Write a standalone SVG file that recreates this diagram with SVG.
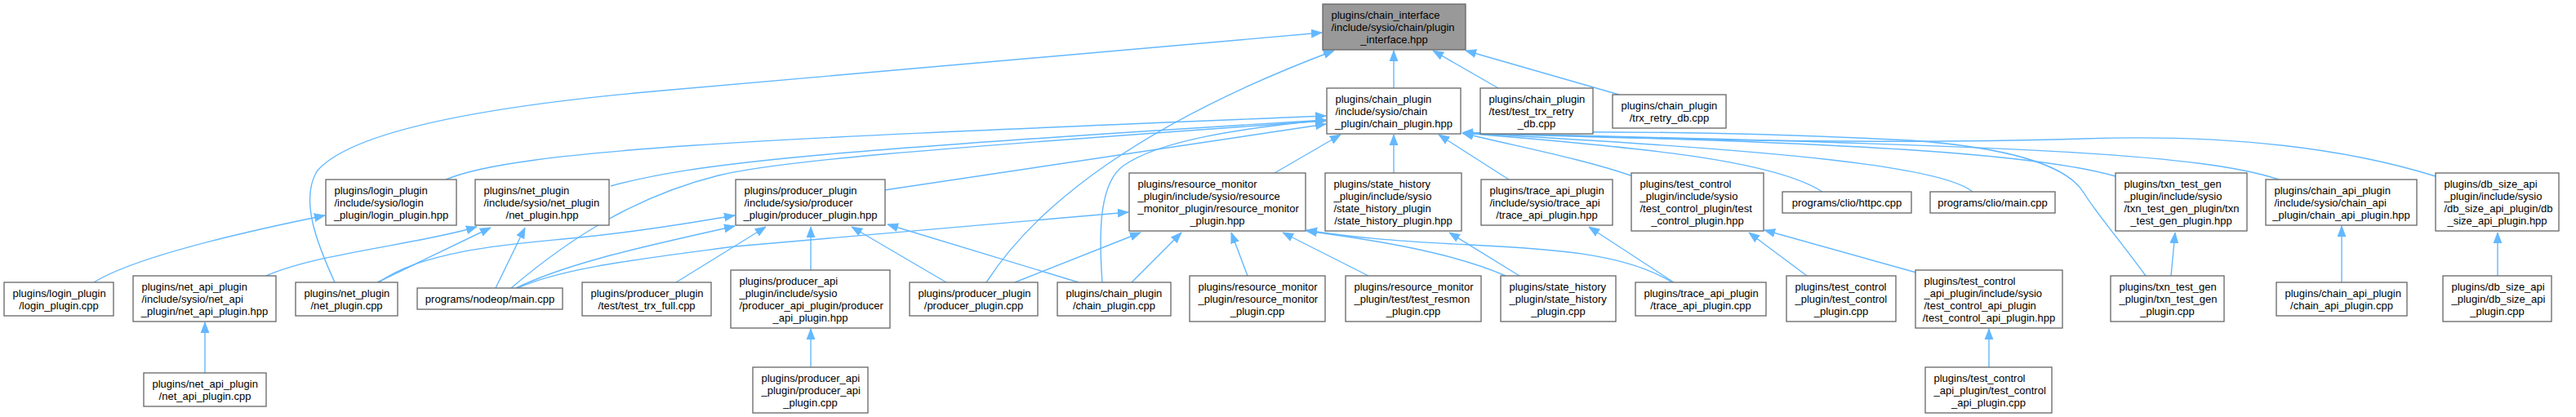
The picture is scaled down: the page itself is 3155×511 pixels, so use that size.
<svg xmlns="http://www.w3.org/2000/svg" width="3155" height="511" viewBox="0 0 3155 511">
<style>
.n rect{fill:#fff;stroke:#666;stroke-width:1.3}
#root rect{fill:#999}
text{font-family:"Liberation Sans",Arial,Helvetica,sans-serif;font-size:13px;fill:#000}
.m{text-anchor:middle}
#edges path{fill:none;stroke:#63b8ff;stroke-width:1.4;marker-end:url(#a)}
</style>
<defs>
<marker id="a" markerUnits="userSpaceOnUse" markerWidth="14" markerHeight="12" viewBox="0 0 14 12" refX="13" refY="6" orient="auto"><path d="M0,1 L13,6 L0,11 z" fill="#63b8ff" stroke="#63b8ff" stroke-width="0.8"/></marker>
</defs>
<rect width="3155" height="511" fill="#fff"/>
<g id="edges">
<path d="M1707,108 L1707,62"/>
<path d="M1835,108 L1755,62"/>
<path d="M1983,116 L1795,62"/>
<path d="M410,346 C389,300 367,246 388,210 C430,160 600,130 800,112 L1619,40"/>
<path d="M1208,346 C1270,250 1400,150 1634,62"/>
<path d="M546,220 C640,180 1000,168 1624,142"/>
<path d="M748,228 C850,200 1000,185 1624,147"/>
<path d="M626,353 C700,290 780,240 880,215 C950,198 1100,185 1624,148"/>
<path d="M1083,233 L1624,152"/>
<path d="M1350,346 C1346,290 1345,225 1376,203 C1420,172 1520,157 1624,147"/>
<path d="M1561,212 L1642,165"/>
<path d="M1707,212 L1707,165"/>
<path d="M1848,220 L1762,165"/>
<path d="M2000,216 C1940,195 1860,180 1791,163"/>
<path d="M2232,235 C2170,195 2000,180 1791,163"/>
<path d="M2416,235 C2380,205 2200,185 1791,163"/>
<path d="M2591,216 C2500,190 2300,175 1791,163"/>
<path d="M2628,338 C2596,294 2565,258 2552,236 C2530,200 2450,180 2340,172 C2100,160 1900,161 1791,163"/>
<path d="M2791,220 C2700,190 2500,178 1791,163"/>
<path d="M2983,216 C2850,175 2700,165 2550,170 C2300,178 2000,170 1791,163"/>
<path d="M326,338 C390,310 510,300 584,278"/>
<path d="M462,346 L601,279"/>
<path d="M607,353 L643,279"/>
<path d="M464,346 C520,305 640,298 700,292 C780,284 840,274 900,264"/>
<path d="M632,353 C700,320 800,300 900,277"/>
<path d="M634,353 C690,328 780,318 900,302 L1382,260"/>
<path d="M828,346 L938,278"/>
<path d="M993,331 L993,278"/>
<path d="M1159,346 L1043,278"/>
<path d="M1321,346 L1087,275"/>
<path d="M1243,346 L1397,285"/>
<path d="M1386,346 L1447,285"/>
<path d="M1528,338 L1508,285"/>
<path d="M1676,338 L1571,285"/>
<path d="M1844,338 C1780,310 1690,295 1600,283"/>
<path d="M2048,346 C1990,310 1900,305 1800,300 C1700,295 1650,290 1600,282"/>
<path d="M1861,338 L1775,285"/>
<path d="M2050,346 L1946,278"/>
<path d="M2213,338 L2142,285"/>
<path d="M2347,334 L2161,282"/>
<path d="M2436,450 L2436,403"/>
<path d="M2659,338 L2664,285"/>
<path d="M2868,346 L2868,277"/>
<path d="M3059,338 L3059,285"/>
<path d="M251,457 L251,395"/>
<path d="M993,450 L993,403"/>
<path d="M115,346 C160,318 270,290 398,264"/>
</g>
<g id="root" class="n"><rect x="1620" y="5" width="175" height="56"/><text x="1630.5" y="22.5">plugins/chain_interface</text><text x="1630.5" y="37.5">/include/sysio/chain/plugin</text><text class="m" x="1707.5" y="52.5">_interface.hpp</text></g>
<g id="chain_plugin_hpp" class="n"><rect x="1625" y="108" width="164" height="56"/><text x="1635.5" y="125.5">plugins/chain_plugin</text><text x="1635.5" y="140.5">/include/sysio/chain</text><text class="m" x="1707" y="155.5">_plugin/chain_plugin.hpp</text></g>
<g id="test_trx_retry_db" class="n"><rect x="1813" y="108" width="138" height="56"/><text x="1823.5" y="125.5">plugins/chain_plugin</text><text x="1823.5" y="140.5">/test/test_trx_retry</text><text class="m" x="1882" y="155.5">_db.cpp</text></g>
<g id="trx_retry_db" class="n"><rect x="1975" y="116" width="139" height="41"/><text x="1985.5" y="133.5">plugins/chain_plugin</text><text class="m" x="2044.5" y="148.5">/trx_retry_db.cpp</text></g>
<g id="login_hpp" class="n"><rect x="399" y="220" width="160" height="56"/><text x="409.5" y="237.5">plugins/login_plugin</text><text x="409.5" y="252.5">/include/sysio/login</text><text class="m" x="479" y="267.5">_plugin/login_plugin.hpp</text></g>
<g id="net_plugin_hpp" class="n"><rect x="582" y="220" width="164" height="56"/><text x="592.5" y="237.5">plugins/net_plugin</text><text x="592.5" y="252.5">/include/sysio/net_plugin</text><text class="m" x="664" y="267.5">/net_plugin.hpp</text></g>
<g id="producer_hpp" class="n"><rect x="901" y="220" width="183" height="56"/><text x="911.5" y="237.5">plugins/producer_plugin</text><text x="911.5" y="252.5">/include/sysio/producer</text><text class="m" x="992.5" y="267.5">_plugin/producer_plugin.hpp</text></g>
<g id="resmon_hpp" class="n"><rect x="1383" y="212" width="216" height="71"/><text x="1393.5" y="229.5">plugins/resource_monitor</text><text x="1393.5" y="244.5">_plugin/include/sysio/resource</text><text x="1393.5" y="259.5">_monitor_plugin/resource_monitor</text><text class="m" x="1491" y="274.5">_plugin.hpp</text></g>
<g id="state_history_hpp" class="n"><rect x="1623" y="212" width="167" height="71"/><text x="1633.5" y="229.5">plugins/state_history</text><text x="1633.5" y="244.5">_plugin/include/sysio</text><text x="1633.5" y="259.5">/state_history_plugin</text><text class="m" x="1706.5" y="274.5">/state_history_plugin.hpp</text></g>
<g id="trace_api_hpp" class="n"><rect x="1814" y="220" width="161" height="56"/><text x="1824.5" y="237.5">plugins/trace_api_plugin</text><text x="1824.5" y="252.5">/include/sysio/trace_api</text><text class="m" x="1894.5" y="267.5">/trace_api_plugin.hpp</text></g>
<g id="test_control_hpp" class="n"><rect x="1998" y="212" width="162" height="71"/><text x="2008.5" y="229.5">plugins/test_control</text><text x="2008.5" y="244.5">_plugin/include/sysio</text><text x="2008.5" y="259.5">/test_control_plugin/test</text><text class="m" x="2079" y="274.5">_control_plugin.hpp</text></g>
<g id="httpc" class="n"><rect x="2183" y="235" width="158" height="26"/><text class="m" x="2262" y="252.5">programs/clio/httpc.cpp</text></g>
<g id="clio_main" class="n"><rect x="2364" y="235" width="153" height="26"/><text class="m" x="2440.5" y="252.5">programs/clio/main.cpp</text></g>
<g id="txn_hpp" class="n"><rect x="2591" y="212" width="161" height="71"/><text x="2601.5" y="229.5">plugins/txn_test_gen</text><text x="2601.5" y="244.5">_plugin/include/sysio</text><text x="2601.5" y="259.5">/txn_test_gen_plugin/txn</text><text class="m" x="2671.5" y="274.5">_test_gen_plugin.hpp</text></g>
<g id="chain_api_hpp" class="n"><rect x="2775" y="220" width="185" height="56"/><text x="2785.5" y="237.5">plugins/chain_api_plugin</text><text x="2785.5" y="252.5">/include/sysio/chain_api</text><text class="m" x="2867.5" y="267.5">_plugin/chain_api_plugin.hpp</text></g>
<g id="db_size_hpp" class="n"><rect x="2983" y="212" width="151" height="71"/><text x="2993.5" y="229.5">plugins/db_size_api</text><text x="2993.5" y="244.5">_plugin/include/sysio</text><text x="2993.5" y="259.5">/db_size_api_plugin/db</text><text class="m" x="3058.5" y="274.5">_size_api_plugin.hpp</text></g>
<g id="login_cpp" class="n"><rect x="5" y="346" width="134" height="41"/><text x="15.5" y="363.5">plugins/login_plugin</text><text class="m" x="72" y="378.5">/login_plugin.cpp</text></g>
<g id="net_api_hpp" class="n"><rect x="163" y="338" width="175" height="56"/><text x="173.5" y="355.5">plugins/net_api_plugin</text><text x="173.5" y="370.5">/include/sysio/net_api</text><text class="m" x="250.5" y="385.5">_plugin/net_api_plugin.hpp</text></g>
<g id="net_plugin_cpp" class="n"><rect x="362" y="346" width="125" height="41"/><text x="372.5" y="363.5">plugins/net_plugin</text><text class="m" x="424.5" y="378.5">/net_plugin.cpp</text></g>
<g id="nodeop_main" class="n"><rect x="511" y="353" width="178" height="26"/><text class="m" x="600" y="370.5">programs/nodeop/main.cpp</text></g>
<g id="test_trx_full" class="n"><rect x="713" y="346" width="158" height="41"/><text x="723.5" y="363.5">plugins/producer_plugin</text><text class="m" x="792" y="378.5">/test/test_trx_full.cpp</text></g>
<g id="producer_api_hpp" class="n"><rect x="895" y="331" width="195" height="71"/><text x="905.5" y="348.5">plugins/producer_api</text><text x="905.5" y="363.5">_plugin/include/sysio</text><text x="905.5" y="378.5">/producer_api_plugin/producer</text><text class="m" x="992.5" y="393.5">_api_plugin.hpp</text></g>
<g id="producer_cpp" class="n"><rect x="1114" y="346" width="157" height="41"/><text x="1124.5" y="363.5">plugins/producer_plugin</text><text class="m" x="1192.5" y="378.5">/producer_plugin.cpp</text></g>
<g id="chain_plugin_cpp" class="n"><rect x="1295" y="346" width="139" height="41"/><text x="1305.5" y="363.5">plugins/chain_plugin</text><text class="m" x="1364.5" y="378.5">/chain_plugin.cpp</text></g>
<g id="resmon_cpp" class="n"><rect x="1457" y="338" width="166" height="56"/><text x="1467.5" y="355.5">plugins/resource_monitor</text><text x="1467.5" y="370.5">_plugin/resource_monitor</text><text class="m" x="1540" y="385.5">_plugin.cpp</text></g>
<g id="test_resmon" class="n"><rect x="1648" y="338" width="166" height="56"/><text x="1658.5" y="355.5">plugins/resource_monitor</text><text x="1658.5" y="370.5">_plugin/test/test_resmon</text><text class="m" x="1731" y="385.5">_plugin.cpp</text></g>
<g id="state_history_cpp" class="n"><rect x="1838" y="338" width="141" height="56"/><text x="1848.5" y="355.5">plugins/state_history</text><text x="1848.5" y="370.5">_plugin/state_history</text><text class="m" x="1908.5" y="385.5">_plugin.cpp</text></g>
<g id="trace_api_cpp" class="n"><rect x="2003" y="346" width="160" height="41"/><text x="2013.5" y="363.5">plugins/trace_api_plugin</text><text class="m" x="2083" y="378.5">/trace_api_plugin.cpp</text></g>
<g id="test_control_cpp" class="n"><rect x="2188" y="338" width="134" height="56"/><text x="2198.5" y="355.5">plugins/test_control</text><text x="2198.5" y="370.5">_plugin/test_control</text><text class="m" x="2255" y="385.5">_plugin.cpp</text></g>
<g id="test_control_api_hpp" class="n"><rect x="2346" y="331" width="180" height="71"/><text x="2356.5" y="348.5">plugins/test_control</text><text x="2356.5" y="363.5">_api_plugin/include/sysio</text><text x="2356.5" y="378.5">/test_control_api_plugin</text><text class="m" x="2436" y="393.5">/test_control_api_plugin.hpp</text></g>
<g id="txn_cpp" class="n"><rect x="2585" y="338" width="139" height="56"/><text x="2595.5" y="355.5">plugins/txn_test_gen</text><text x="2595.5" y="370.5">_plugin/txn_test_gen</text><text class="m" x="2654.5" y="385.5">_plugin.cpp</text></g>
<g id="chain_api_cpp" class="n"><rect x="2788" y="346" width="160" height="41"/><text x="2798.5" y="363.5">plugins/chain_api_plugin</text><text class="m" x="2868" y="378.5">/chain_api_plugin.cpp</text></g>
<g id="db_size_cpp" class="n"><rect x="2992" y="338" width="133" height="56"/><text x="3002.5" y="355.5">plugins/db_size_api</text><text x="3002.5" y="370.5">_plugin/db_size_api</text><text class="m" x="3058.5" y="385.5">_plugin.cpp</text></g>
<g id="net_api_cpp" class="n"><rect x="176" y="457" width="150" height="41"/><text x="186.5" y="474.5">plugins/net_api_plugin</text><text class="m" x="251" y="489.5">/net_api_plugin.cpp</text></g>
<g id="producer_api_cpp" class="n"><rect x="922" y="450" width="141" height="56"/><text x="932.5" y="467.5">plugins/producer_api</text><text x="932.5" y="482.5">_plugin/producer_api</text><text class="m" x="992.5" y="497.5">_plugin.cpp</text></g>
<g id="test_control_api_cpp" class="n"><rect x="2358" y="450" width="155" height="56"/><text x="2368.5" y="467.5">plugins/test_control</text><text x="2368.5" y="482.5">_api_plugin/test_control</text><text class="m" x="2435.5" y="497.5">_api_plugin.cpp</text></g>
</svg>
